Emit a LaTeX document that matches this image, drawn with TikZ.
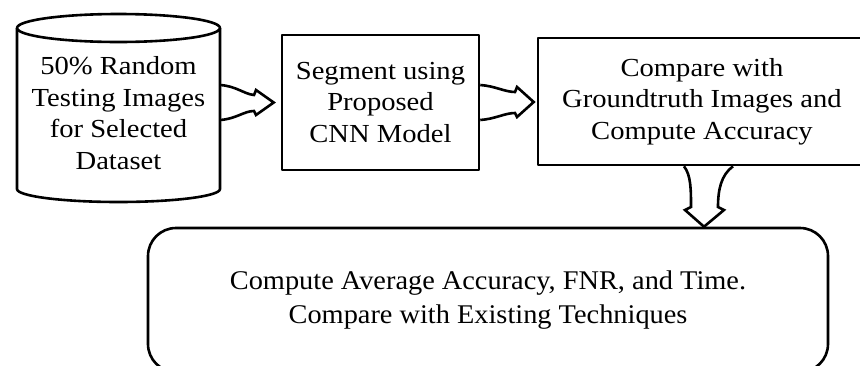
\documentclass[tikz,border=0pt]{standalone}
\usepackage{fontspec}
\usetikzlibrary{calc}
\setmainfont{Liberation Serif}
\newfontfamily\fb[FakeStretch=1.1]{Liberation Serif}
\newfontfamily\fc[FakeStretch=1.05]{Liberation Serif}
\begin{document}
\begin{tikzpicture}[x=1pt,y=-1pt,line width=2.6pt,line join=round,
  txt/.style={inner sep=0pt,align=center,font=\fb\fontsize{26}{31.5}\selectfont},
  box/.style={txt,draw},
  barrow/.style={draw,line width=2.6pt,line join=miter}]
\useasboundingbox (0,0) rectangle (860,365);
\clip (0,0) rectangle (860,365);
% cylinder
\draw (17,28) -- (17,189) arc[start angle=180,end angle=0,x radius=101.5,y radius=13] -- (220,28);
\draw (118.5,28) ellipse [x radius=101.5,y radius=14];
\coordinate (cylE) at (220,102.5);
\node[txt] (cyl) at (118.5,113) {50\% Random\\Testing Images\\for Selected\\Dataset};
% boxes
\node[box,minimum width=197pt,minimum height=135pt] (seg) at (380.5,102.5) {Segment using\\Proposed\\CNN Model};
\node[box,minimum width=328pt,minimum height=127pt] (cmp) at (702,101.5) {Compare with\\Groundtruth Images and\\Compute Accuracy};
\node[box,rounded corners=28pt,minimum width=680pt,minimum height=144pt,font=\fc\fontsize{27}{34}\selectfont] (avg) at (488,300) {Compute Average Accuracy, FNR, and Time.\\Compare with Existing Techniques};
% block arrows
\draw[barrow] ($(cylE)+(0,-17.5)$) .. controls (236,86) and (244,94) .. (254,95) -- (256,90) -- ($(seg.west)+(-7,0)$) -- (256,115) -- (254,111) .. controls (244,111) and (236,119) .. ($(cylE)+(0,17.5)$);
\draw[barrow] ($(seg.east)+(0,-17.5)$) .. controls (495,86) and (505,92) .. (515,92) -- (517,87) -- ($(cmp.west)+(-3,0.5)$) -- (517,117) -- (515,113) .. controls (505,113) and (495,119) .. ($(seg.east)+(0,17.5)$);
\draw[barrow] (cmp.south -| 684,0) .. controls (691,175) and (691,190) .. (691,207) -- (685,210) -- (avg.north -| 704,0) -- (724,210) -- (718,207) .. controls (718,190) and (721,175) .. (cmp.south -| 733,0);
\end{tikzpicture}
\end{document}
